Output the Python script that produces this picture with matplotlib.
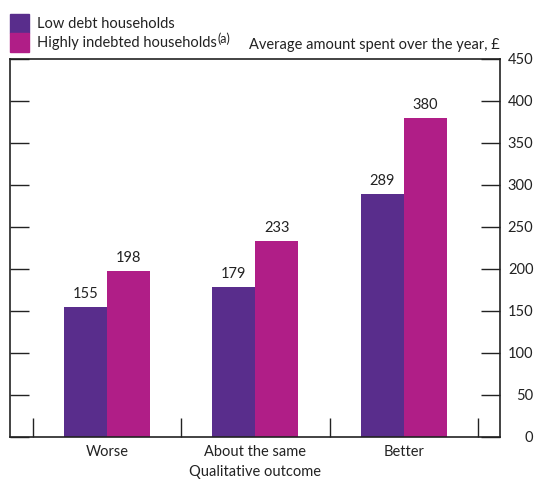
import numpy as np
import matplotlib.pyplot as plt

plt.rcParams['font.family'] = ['Lato', 'DejaVu Sans']

categories = ['Worse', 'About the same', 'Better']
low_debt = [155, 179, 289]
high_debt = [198, 233, 380]
series_names = ['Low debt households', 'Highly indebted households']
purple = '#592D8C'
magenta = '#B01E87'

fig = plt.figure(figsize=(5.39, 4.79), dpi=100)
ax = fig.add_axes([10 / 539, 42 / 479, 490 / 539, 378 / 479])

x = np.arange(len(categories))
w = 0.29
b1 = ax.bar(x - w / 2, low_debt, w, color=purple)
b2 = ax.bar(x + w / 2, high_debt, w, color=magenta)
for bars, vals in [(b1, low_debt), (b2, high_debt)]:
    for r, v in zip(bars, vals):
        ax.text(r.get_x() + r.get_width() / 2, v + 7, str(v), ha='center', va='bottom',
                fontsize=10.5, color='#222222')

ax.set_xlim(-0.655, 2.65)
ax.set_ylim(0, 450)

ax.yaxis.tick_right()
ax.set_yticks(np.arange(0, 451, 50))
ax.tick_params(axis='y', which='both', direction='in', length=14, width=1, left=True, right=True,
               labelleft=False, labelright=True, pad=24, labelsize=10.5, colors='#222222')
for lab in ax.get_yticklabels():
    lab.set_horizontalalignment('right')

# category boundaries as ticks, labels as minor ticks
ax.set_xticks(np.arange(-0.5, 2.6, 1.0))
ax.set_xticklabels([])
ax.tick_params(axis='x', which='major', direction='in', length=14, width=1, colors='#222222')
ax.set_xticks(x, minor=True)
ax.set_xticklabels(categories, minor=True)
ax.tick_params(axis='x', which='minor', length=0, pad=6, labelsize=10.5, labelcolor='#222222')

for s in ax.spines.values():
    s.set_linewidth(1.2)
    s.set_color('#222222')

ax.set_xlabel('Qualitative outcome', fontsize=10.5, color='#222222', labelpad=4)

fig.text(500 / 539, 1 - 45 / 479, 'Average amount spent over the year, £', ha='right', va='center',
         fontsize=10.5, color='#222222')

# legend
renderer = fig.canvas.get_renderer()
for i, (name, col) in enumerate(zip(series_names, [purple, magenta])):
    y0 = 479 - 14 - 19 * (i + 1)
    fig.patches.append(plt.Rectangle((10 / 539, y0 / 479), 19 / 539, 19 / 479,
                                     transform=fig.transFigure, color=col))
    t = fig.text(37 / 539, (y0 + 9) / 479, name, ha='left', va='center', fontsize=10.5, color='#222222')
    if i == 1:
        bb = t.get_window_extent(renderer)
        fig.text((bb.x1 + 1) / 539, (y0 + 7) / 479, '(a)', ha='left', va='bottom',
                 fontsize=9, color='#222222')

fig.savefig('out.png', dpi=100)
